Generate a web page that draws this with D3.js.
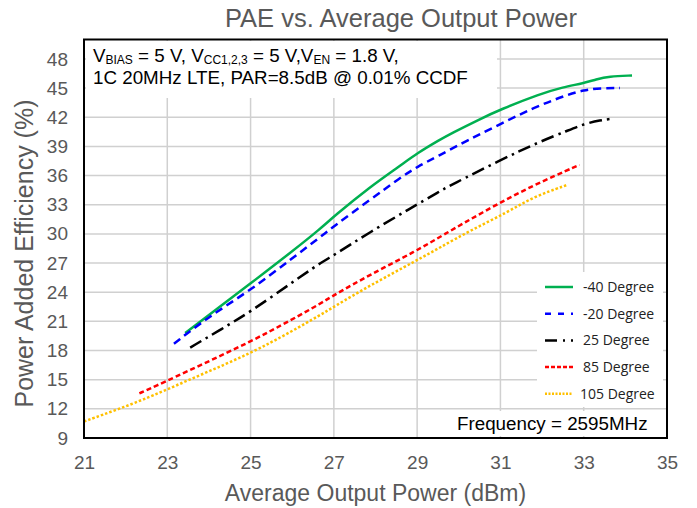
<!DOCTYPE html>
<html>
<head>
<meta charset="utf-8">
<script src="https://cdnjs.cloudflare.com/ajax/libs/d3/7.8.5/d3.min.js"></script>
<style>
  body { margin: 0; background: #fff; }
  svg { display: block; }
</style>
</head>
<body>
<div id="chart"></div>
<script>
// values
var xTicks = [21, 23, 25, 27, 29, 31, 33, 35];
var yTicks = [9, 12, 15, 18, 21, 24, 27, 30, 33, 36, 39, 42, 45, 48];

var seriesNames = ["-40 Degree", "-20 Degree", "25 Degree", "85 Degree", "105 Degree"];

var pm40 = [[23.43, 19.8], [24.2, 22.3], [25.0, 24.9], [26.0, 28.2], [26.67, 30.5], [27.0, 31.8],
            [27.87, 34.85], [28.59, 37.0], [29.0, 38.3], [29.55, 39.7], [29.8, 40.3], [30.5, 41.8],
            [31.0, 42.8], [31.95, 44.4], [32.5, 45.1], [33.0, 45.5], [33.3, 45.9], [33.6, 46.2], [34.16, 46.3]];
var pm20 = [[23.16, 18.7], [24.0, 21.5], [25.0, 24.2], [26.0, 27.5], [26.67, 29.65], [27.0, 30.8],
            [27.87, 33.5], [28.6, 35.8], [29.0, 36.9], [29.5, 38.0], [30.2, 39.6], [31.0, 41.3],
            [31.8, 43.0], [32.6, 44.3], [33.0, 44.8], [33.4, 45.0], [33.87, 45.0]];
var p25 = [[23.55, 18.3], [24.3, 20.2], [25.0, 22.0], [26.0, 25.0], [26.67, 27.0], [27.0, 27.8],
           [27.87, 30.2], [28.83, 32.6], [29.55, 34.4], [29.8, 35.0], [31.0, 37.6], [31.95, 39.5],
           [32.6, 40.6], [33.0, 41.3], [33.4, 41.7], [33.7, 41.85]];
var p85 = [[22.33, 13.6], [22.6, 14.1], [23.8, 16.5], [25.0, 18.9], [26.0, 21.2], [26.67, 22.8],
           [27.0, 23.7], [27.87, 25.8], [29.0, 28.3], [29.55, 29.7], [30.68, 32.5], [31.78, 35.0], [32.9, 37.1]];
var p105 = [[21.0, 10.7], [21.85, 12.0], [22.6, 13.25], [23.8, 15.5], [25.0, 17.7], [26.0, 20.0],
            [26.67, 21.65], [27.0, 22.5], [27.87, 24.7], [29.0, 27.3], [29.55, 28.6], [30.3, 30.4],
            [31.16, 32.2], [31.78, 33.8], [32.58, 35.0]];

var seriesData = [pm40, pm20, p25, p85, p105];
var seriesColors = ["#00b050", "#0000ff", "#000000", "#ff0000", "#ffc000"];
var seriesDash = [null, "8,5", "13,5,2.5,5", "5,3", "2.5,2"];
var legendDash = [null, "6,7", "12,6,2,6", "4,2", "2,1.5"];

var width = 697, height = 508;
var margin = { top: 39.5, right: 30, bottom: 70, left: 84 };

var svg = d3.select("#chart").append("svg")
    .attr("width", width)
    .attr("height", height);

var x = d3.scaleLinear().domain([21, 35]).range([margin.left, width - margin.right]);
var y = d3.scaleLinear().domain([9, 50]).range([height - margin.bottom, margin.top]);

var gray = "#595959";
var font = "'Liberation Sans', Arial, sans-serif";

// gridlines
svg.append("g").selectAll("line.h")
    .data(yTicks.filter(function (d) { return d > 9; }))
    .enter().append("line")
    .attr("x1", x(21)).attr("x2", x(35))
    .attr("y1", function (d) { return y(d); })
    .attr("y2", function (d) { return y(d); })
    .attr("stroke", "#d0d0d0").attr("stroke-width", 1.5);

svg.append("g").selectAll("line.v")
    .data(xTicks.filter(function (d) { return d > 21 && d < 35; }))
    .enter().append("line")
    .attr("x1", function (d) { return x(d); })
    .attr("x2", function (d) { return x(d); })
    .attr("y1", y(50)).attr("y2", y(9))
    .attr("stroke", "#d0d0d0").attr("stroke-width", 1.5);

// white boxes behind the text blocks (they hide the grid)
svg.append("rect").attr("x", 86).attr("y", 41).attr("width", 411).attr("height", 57).attr("fill", "#fff");
svg.append("rect").attr("x", 537).attr("y", 272).attr("width", 126).attr("height", 135).attr("fill", "#fff");
svg.append("rect").attr("x", 447).attr("y", 411).attr("width", 216).attr("height", 25).attr("fill", "#fff");

// curves
var line = d3.line()
    .x(function (d) { return x(d[0]); })
    .y(function (d) { return y(d[1]); })
    .curve(d3.curveBasis);

svg.append("g").selectAll("path")
    .data(seriesData)
    .enter().append("path")
    .attr("d", line)
    .attr("fill", "none")
    .attr("stroke", function (d, i) { return seriesColors[i]; })
    .attr("stroke-width", 2.5)
    .attr("stroke-dasharray", function (d, i) { return seriesDash[i]; });

// frame
svg.append("rect")
    .attr("x", x(21)).attr("y", y(50))
    .attr("width", x(35) - x(21)).attr("height", y(9) - y(50))
    .attr("fill", "none").attr("stroke", "#000").attr("stroke-width", 2);

// axes (labels only)
var xAxis = d3.axisBottom(x).tickValues(xTicks).tickSize(0).tickPadding(18);
var yAxis = d3.axisLeft(y).tickValues(yTicks).tickSize(0).tickPadding(16);

var gx = svg.append("g").attr("transform", "translate(0," + y(9) + ")").call(xAxis);
var gy = svg.append("g").attr("transform", "translate(" + x(21) + ",0)").call(yAxis);
[gx, gy].forEach(function (g) {
    g.select(".domain").remove();
    g.selectAll("text")
        .attr("fill", gray)
        .style("font-family", font)
        .style("font-size", "19px");
});

// titles
svg.append("text")
    .attr("x", 401).attr("y", 27)
    .attr("text-anchor", "middle")
    .attr("fill", gray)
    .style("font-family", font)
    .style("font-size", "25.5px")
    .text("PAE vs. Average Output Power");

svg.append("text")
    .attr("x", (x(21) + x(35)) / 2).attr("y", 501)
    .attr("text-anchor", "middle")
    .attr("fill", gray)
    .style("font-family", font)
    .style("font-size", "23px")
    .text("Average Output Power (dBm)");

svg.append("text")
    .attr("transform", "translate(33,253.5) rotate(-90)")
    .attr("text-anchor", "middle")
    .attr("fill", gray)
    .style("font-family", font)
    .style("font-size", "25px")
    .text("Power Added Efficiency (%)");

// conditions note
var note = svg.append("text")
    .attr("x", 93).attr("y", 62)
    .attr("fill", "#000")
    .style("font-family", font)
    .style("font-size", "18.8px");
var parts = [["V", false], ["BIAS", true], [" = 5 V, V", false], ["CC1,2,3", true],
             [" = 5 V,V", false], ["EN", true], [" = 1.8 V,", false]];
parts.forEach(function (p, i) {
    var t = note.append("tspan").text(p[0]);
    if (p[1]) {
        t.style("font-size", "12px").attr("dy", 2);
    } else if (i > 0) {
        t.attr("dy", -2);
    }
});
svg.append("text")
    .attr("x", 93).attr("y", 84)
    .attr("fill", "#000")
    .style("font-family", font)
    .style("font-size", "18.8px")
    .text("1C 20MHz LTE, PAR=8.5dB @ 0.01% CCDF");

// legend
var legend = svg.append("g").selectAll("g")
    .data(seriesNames)
    .enter().append("g")
    .attr("transform", function (d, i) { return "translate(545," + (287 + i * 26.7) + ")"; });

legend.append("line")
    .attr("x1", 0).attr("x2", 28)
    .attr("stroke", function (d, i) { return seriesColors[i]; })
    .attr("stroke-width", 2.5)
    .attr("stroke-dasharray", function (d, i) { return legendDash[i]; });

legend.append("text")
    .attr("x", function (d, i) { return i === 4 ? 35 : 38; })
    .attr("y", 5)
    .attr("fill", "#222")
    .style("font-family", "'Open Sans', Lato, sans-serif")
    .style("font-size", "14px")
    .text(function (d) { return d; });

svg.append("text")
    .attr("x", 457).attr("y", 430)
    .attr("fill", "#000")
    .style("font-family", font)
    .style("font-size", "18.8px")
    .text("Frequency = 2595MHz");
</script>
</body>
</html>
